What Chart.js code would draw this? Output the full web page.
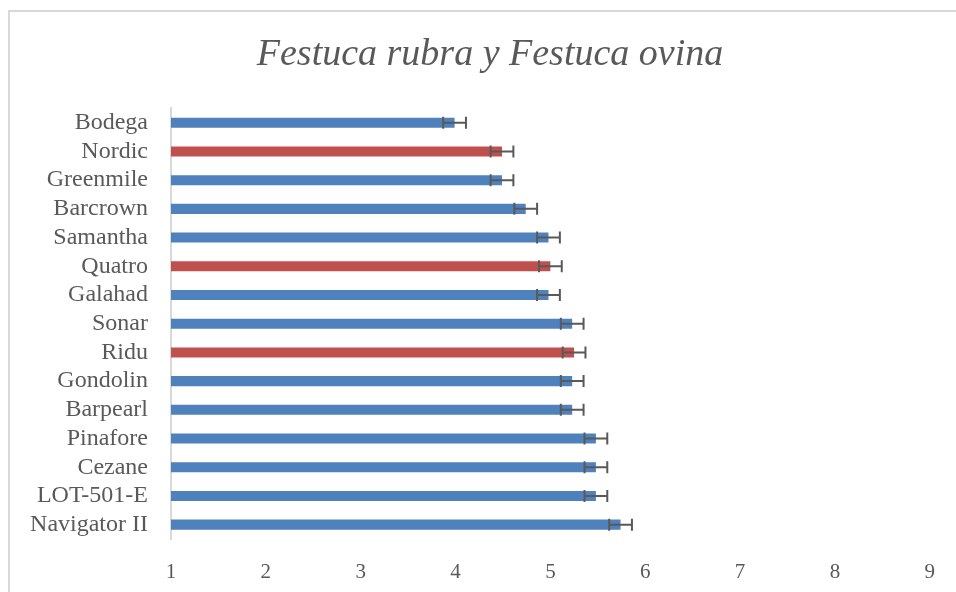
<!DOCTYPE html>
<html>
<head>
<meta charset="utf-8">
<script src="https://cdn.jsdelivr.net/npm/chart.js@4"></script>
<style>
  body { margin: 0; overflow: hidden; background: #fff; }
  #frame { position: absolute; left: 8px; top: 10px; width: 1000px; height: 1000px; border: 2px solid #d9d9d9; }
  #wrap { position: absolute; left: 0; top: 0; width: 956px; height: 592px; }
</style>
</head>
<body>
<div id="frame"></div>
<div id="wrap"><canvas id="chart" width="956" height="592"></canvas></div>
<script>
// cultivars, top to bottom as in the picture
var cultivars = ['Bodega', 'Nordic', 'Greenmile', 'Barcrown', 'Samantha', 'Quatro', 'Galahad',
  'Sonar', 'Ridu', 'Gondolin', 'Barpearl', 'Pinafore', 'Cezane', 'LOT-501-E', 'Navigator II'];
var means = [3.99, 4.49, 4.49, 4.74, 4.98, 5.0, 4.98, 5.23, 5.25, 5.23, 5.23, 5.48, 5.48, 5.48, 5.74];
var errors = [0.12, 0.12, 0.12, 0.12, 0.12, 0.12, 0.12, 0.12, 0.12, 0.12, 0.12, 0.12, 0.12, 0.12, 0.12];
// species: rubra drawn blue, ovina drawn red
var species = ['rubra', 'ovina', 'rubra', 'rubra', 'rubra', 'ovina', 'rubra',
  'rubra', 'ovina', 'rubra', 'rubra', 'rubra', 'rubra', 'rubra', 'rubra'];
var xTicks = [1, 2, 3, 4, 5, 6, 7, 8, 9];
var title = 'Festuca rubra y Festuca ovina';

var colors = { rubra: '#4f81bd', ovina: '#c0504d' };

// error bars drawn on top of the bars
var errorBars = {
  id: 'errorBars',
  afterDatasetsDraw: function (chart) {
    var ctx = chart.ctx;
    var xs = chart.scales.x;
    var ys = chart.scales.y;
    ctx.save();
    ctx.strokeStyle = '#595959';
    ctx.lineWidth = 2;
    for (var i = 0; i < means.length; i++) {
      var y = ys.getPixelForValue(i);
      var x1 = xs.getPixelForValue(means[i] - errors[i]);
      var x2 = xs.getPixelForValue(means[i] + errors[i]);
      ctx.beginPath();
      ctx.moveTo(x1, y); ctx.lineTo(x2, y);
      ctx.moveTo(x1, y - 6); ctx.lineTo(x1, y + 6);
      ctx.moveTo(x2, y - 6); ctx.lineTo(x2, y + 6);
      ctx.stroke();
    }
    ctx.restore();
  }
};

// title centred on the whole frame (which runs past the right edge)
var frameTitle = {
  id: 'frameTitle',
  afterDraw: function (chart) {
    var ctx = chart.ctx;
    ctx.save();
    ctx.fillStyle = '#595959';
    ctx.font = 'italic 38px "Liberation Serif"';
    ctx.textAlign = 'center';
    ctx.textBaseline = 'alphabetic';
    ctx.fillText(title, 490, 65);
    ctx.restore();
  }
};

new Chart(document.getElementById('chart'), {
  type: 'bar',
  data: {
    labels: cultivars,
    datasets: [{
      data: means,
      backgroundColor: species.map(function (s) { return colors[s]; }),
      base: 1,
      categoryPercentage: 1,
      barPercentage: 0.35
    }]
  },
  options: {
    indexAxis: 'y',
    responsive: false,
    animation: false,
    layout: { padding: { left: 0, right: 20, top: 108.4, bottom: 7 } },
    plugins: {
      legend: { display: false },
      tooltip: { enabled: false },
      title: { display: false }
    },
    scales: {
      x: {
        min: 1,
        max: 9,
        afterBuildTicks: function (scale) { scale.ticks = xTicks.map(function (v) { return { value: v }; }); },
        afterFit: function (scale) { scale.height = 46; },
        grid: { display: false, drawTicks: false },
        border: { display: false },
        ticks: { color: '#595959', padding: 21, font: { family: 'Liberation Serif', size: 21 } }
      },
      y: {
        afterFit: function (scale) {
          scale.width = 171;
          scale.paddingTop = 0;
          scale.paddingBottom = 0;
        },
        grid: { display: false, drawTicks: false },
        border: { display: true, color: '#d9d9d9', width: 2 },
        ticks: { autoSkip: false, color: '#595959', padding: 23, font: { family: 'Liberation Serif', size: 24 } }
      }
    }
  },
  plugins: [errorBars, frameTitle]
});
</script>
</body>
</html>
